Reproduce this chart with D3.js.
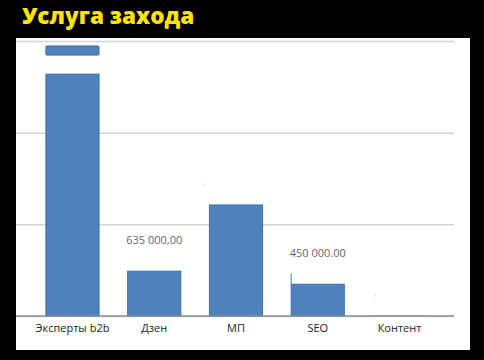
<!DOCTYPE html>
<html><head><meta charset="utf-8">
<script src="https://cdn.jsdelivr.net/npm/d3@7"></script>
<style>html,body{margin:0;padding:0;background:#000;}svg{display:block;}</style>
</head><body>
<svg id="c" width="484" height="360"></svg>
<script>
const categories = ["Эксперты b2b", "Дзен", "МП", "SEO", "Контент"];
const values = [3430000, 635000, 1575000, 450000, 12000];
const dataLabels = [null, "635 000,00", null, "450 000.00", null];
const breakCap = [3700000, 3830000]; // detached top piece of the first (broken) bar
const tickValues = [0, 1300000, 2600000, 3900000];
const title = "Услуга захода";

const rows = categories.map((c,i)=>({cat:c, value:values[i], label:dataLabels[i], idx:i}));

const svg = d3.select("#c");
svg.append("rect").attr("width",484).attr("height",360).attr("fill","#000");
svg.append("text").attr("x",22).attr("y",24)
  .attr("font-family","Open Sans, Noto Sans, sans-serif").attr("font-weight",800)
  .attr("font-size",22.5).attr("fill","#FFE400").text(title);

// white panel
svg.append("rect").attr("x",16).attr("y",38).attr("width",454).attr("height",312).attr("fill","#fff");

const x = d3.scaleBand().domain(categories).range([31.6, 440.4]).paddingInner(0.35).paddingOuter(0.175);
const y = d3.scaleLinear().domain([0, 3900000]).range([316, 41]);

// gridlines
const grid = svg.append("g").attr("transform","translate(16,0)")
  .call(d3.axisLeft(y).tickValues(tickValues).tickSize(0).tickFormat(""));
grid.select(".domain").remove();
grid.selectAll(".tick line").attr("x1",0).attr("x2",438).attr("stroke","#d4d4d4").attr("stroke-width",1.5);

// bars
svg.append("g").selectAll("rect").data(rows).join("rect")
  .attr("x",d=>x(d.cat))
  .attr("y",d=>y(d.value))
  .attr("width",x.bandwidth())
  .attr("height",d=>Math.max(0.8, y(0)-y(d.value)))
  .attr("fill",d=> d.idx===4 ? "#a9c4e4" : "#4f81bd")
  .attr("stroke",d=> d.idx===4 ? "none" : "#3b6fae")
  .attr("stroke-width",1);

// broken cap piece on first bar
svg.append("rect")
  .attr("x",x(categories[0])).attr("y",y(breakCap[1]))
  .attr("width",x.bandwidth()).attr("height",y(breakCap[0])-y(breakCap[1]))
  .attr("fill","#4f81bd").attr("stroke","#3b6fae").attr("stroke-width",1).attr("rx",1);

// baseline axis
const xAxis = svg.append("g").attr("transform",`translate(0,${y(0)})`)
  .call(d3.axisBottom(x).tickSize(0).tickPadding(8));
xAxis.select(".domain").attr("d","M16,0H454").attr("stroke","#8c8c8c").attr("stroke-width",1.5);
xAxis.selectAll("text").attr("font-family","Open Sans, sans-serif").attr("font-size",11).attr("fill","#222");

// data labels
svg.append("g").selectAll("text").data(rows.filter(d=>d.label)).join("text")
  .attr("x",d=>x(d.cat)+x.bandwidth()/2)
  .attr("y",d=>y(d.value)-27)
  .attr("text-anchor","middle")
  .attr("font-family","Open Sans, sans-serif").attr("font-size",11).attr("fill","#666")
  .text(d=>d.label);

// small leftover label artifacts
svg.append("text").attr("x",x("МП")-6).attr("y",y(values[2])-20)
  .attr("font-size",8).attr("fill","#bbb").text(":");
svg.append("text").attr("x",x("Контент")+1).attr("y",y(0)-17)
  .attr("font-size",8).attr("fill","#bbb").text(":");
svg.append("line").attr("x1",x("SEO")).attr("x2",x("SEO"))
  .attr("y1",y(values[3])-11).attr("y2",y(values[3])).attr("stroke","#4f81bd").attr("stroke-width",1);
</script>
</body></html>
